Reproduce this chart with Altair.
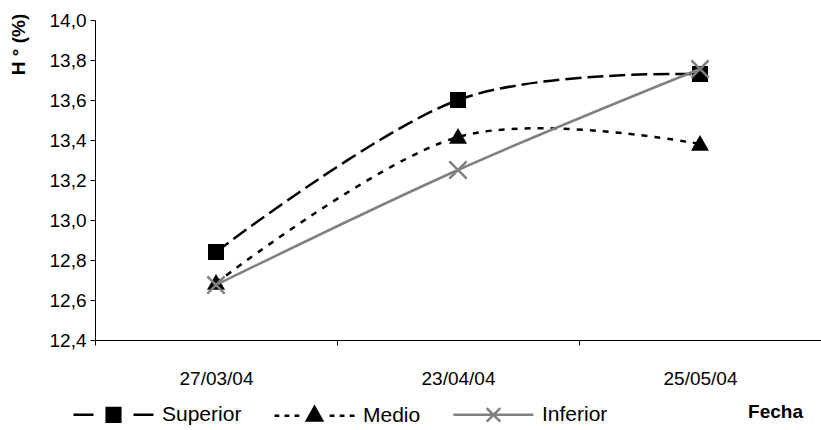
import altair as alt
import pandas as pd

# ---- data ----
fechas = ["27/03/04", "23/04/04", "25/05/04"]
series_names = ["Superior", "Medio", "Inferior"]
superior = [12.84, 13.60, 13.73]
medio = [12.685, 13.415, 13.38]
inferior = [12.675, 13.25, 13.755]
y_ticks = [12.4, 12.6, 12.8, 13.0, 13.2, 13.4, 13.6, 13.8, 14.0]

rows = []
for name, vals in zip(series_names, [superior, medio, inferior]):
    for f, v in zip(fechas, vals):
        rows.append({"serie": name, "fecha": f, "valor": v})
df = pd.DataFrame(rows)

FONT = "Liberation Sans"
PLOT_W, PLOT_H = 726, 320
LEFT, TOP = 95, 20

# ---- styles (kept separate from data) ----
styles = {
    "Superior": dict(color="black", dash=[16, 6],
                     marker="M-1,-1H1V1H-1Z", size=256, filled=True),
    "Medio": dict(color="black", dash=[6, 7],
                  marker="M0,-1L1,0.75L-1,0.75Z", size=324, filled=True),
    "Inferior": dict(color="#808080", dash=None,
                     marker="M-1,-1L1,1M-1,1L1,-1", size=300, filled=False),
}
legend_paths = [
    "M-1,0H-0.5M0.5,0H1M-0.17,-0.17H0.17V0.17H-0.17Z",
    "M-1,0H-0.88M-0.75,0H-0.63M-0.5,0H-0.38M0.38,0H0.5M0.63,0H0.75M0.88,0H1"
    "M0,-0.22L0.19,0.12L-0.19,0.12Z",
    "M-1,0H1M-0.17,-0.17L0.17,0.17M-0.17,0.17L0.17,-0.17",
]

x_enc = alt.X(
    "fecha:N",
    sort=fechas,
    bandPosition=0.5,
    scale=alt.Scale(type="band", domain=fechas, paddingInner=0, paddingOuter=0),
    axis=alt.Axis(
        title="Fecha", labelAngle=0, tickBand="extent", tickSize=5,
        labelPadding=24, labelFontSize=19,
        titleX=680, titleY=71, titleAlign="center", titleBaseline="middle",
        titleFontWeight="bold", titleFontSize=19,
    ),
)
y_enc = alt.Y(
    "valor:Q",
    scale=alt.Scale(domain=[12.4, 14.0], nice=False, zero=False),
    axis=alt.Axis(
        values=y_ticks,
        labelExpr="replace(format(datum.value, '.1f'), '.', ',')",
        tickSize=5, labelPadding=4, labelFontSize=19,
        title="H ° (%)", titleAngle=270, titleX=-77, titleY=24,
        titleAlign="center", titleBaseline="middle",
        titleFontWeight="bold", titleFontSize=19,
    ),
)

base = alt.Chart(df)
layers = []
for name in series_names:
    st = styles[name]
    line_kw = dict(color=st["color"], strokeWidth=2.5,
                   interpolate="cardinal", tension=0)
    if st["dash"]:
        line_kw["strokeDash"] = st["dash"]
    sub = base.transform_filter(alt.datum.serie == name)
    layers.append(sub.mark_line(**line_kw).encode(x=x_enc, y=y_enc))
    if st["filled"]:
        pt = sub.mark_point(shape=st["marker"], size=st["size"], filled=True,
                            fill=st["color"], strokeWidth=0, opacity=1)
    else:
        pt = sub.mark_point(shape=st["marker"], size=st["size"], filled=False,
                            stroke=st["color"], strokeWidth=2.5, opacity=1)
    layers.append(pt.encode(x=x_enc, y=y_enc))

leg = alt.Legend(
    title=None, orient="none", direction="horizontal",
    legendX=-23, legendY=353,
    symbolSize=6400, symbolStrokeWidth=2.5, labelFontSize=21,
    labelOffset=7, columnPadding=27, padding=0,
)
legend_layer = base.transform_filter("false").mark_point(
    size=6400, opacity=1, strokeWidth=2.5, filled=True
).encode(
    shape=alt.Shape("serie:N", scale=alt.Scale(domain=series_names, range=legend_paths), legend=leg),
    fill=alt.Fill("serie:N", scale=alt.Scale(domain=series_names, range=["black", "black", "transparent"]), legend=leg),
    stroke=alt.Stroke("serie:N", scale=alt.Scale(domain=series_names, range=["black", "black", "#808080"]), legend=leg),
)
layers.append(legend_layer)

chart = alt.layer(*layers).properties(
    width=PLOT_W, height=PLOT_H,
    autosize=alt.AutoSizeParams(type="none"),
    padding={"left": LEFT, "top": TOP, "right": 0, "bottom": 90},
).configure(
    font=FONT,
).configure_view(
    stroke=None,
).configure_axis(
    grid=False, domainColor="black", tickColor="black", domainWidth=1,
    labelColor="black", titleColor="black", labelFont=FONT, titleFont=FONT,
).configure_legend(
    labelColor="black", labelFont=FONT,
)

chart.save("out.html", embed_options={"renderer": "svg", "actions": False})
